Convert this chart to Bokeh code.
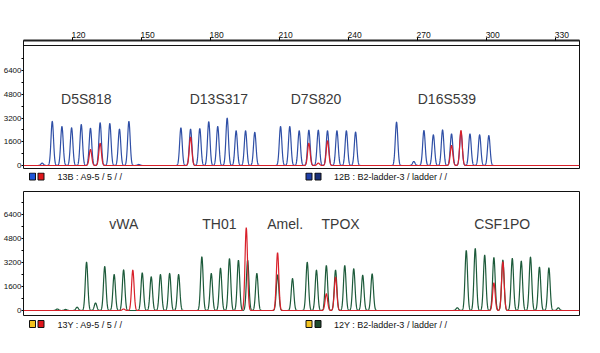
import numpy as np
from bokeh.plotting import figure
from bokeh.layouts import column
from bokeh.models import Range1d, FixedTicker, Span, LinearAxis
from bokeh.core.properties import value
from bokeh.embed import file_html
from bokeh.resources import INLINE

# ---------------- data ----------------
bp_ticks = [120, 150, 180, 210, 240, 270, 300, 330]
rfu_ticks = [0, 1600, 3200, 4800, 6400]
rfu_minor = [800, 2400, 4000, 5600, 7200]
rfu_labels = ["0", "1600", "3200", "4800", "6400"]

# top panel, blue dye (peaks: size in bp, height in RFU)
blue_bp = [106.8, 111.2, 115.4, 119.6, 123.8, 127.8, 132.0, 136.2, 140.4, 144.5, 148.8,
           167.1, 171.3, 175.3, 179.2, 183.1, 187.2, 191.1, 195.2, 199.2,
           210.4, 214.4, 218.5, 222.7, 226.8, 230.8, 234.9, 239.0, 243.0,
           260.8, 268.3,
           272.7, 276.8, 280.8, 284.7, 288.8, 292.7, 296.9, 300.9]
blue_h = [160, 2970, 2630, 2540, 2760, 2510, 2880, 2830, 2450, 2970, 70,
          2540, 2450, 2490, 2950, 2630, 3190, 2340, 2340, 2240,
          2630, 2630, 2340, 2380, 2380, 2340, 2340, 2340, 2250,
          2920, 270,
          2360, 2070, 2400, 2130, 2250, 2130, 2070, 2020]
# top panel, red trace
red_top_bp = [127.8, 132.0, 171.3, 222.7, 226.8, 230.8, 284.7, 288.8]
red_top_h = [1080, 1500, 1910, 1500, 160, 1660, 1350, 2360]

# bottom panel, green trace
green_bp = [113.4, 117.0, 122.0, 126.1, 130.0, 134.0, 138.1, 142.2, 150.3, 154.2, 158.2, 162.2, 166.1,
            176.2, 180.3, 184.3, 188.2, 192.1, 196.1, 200.1,
            209.1, 215.6,
            222.0, 226.0, 230.3, 234.3, 238.3, 242.2, 246.1, 250.2,
            287.2, 291.1, 295.0, 299.1, 303.1, 307.0, 311.1, 315.0, 319.0, 322.9, 327.0, 331.1]
green_h = [100, 70, 220, 3220, 500, 2930, 2400, 2710, 2510, 2250, 2400, 2470, 2400,
           3580, 2470, 2820, 3450, 3350, 3350, 2470,
           2380, 2130,
           3220, 2690, 3000, 2690, 3000, 2780, 2350, 2440,
           180, 4000, 4130, 3690, 3530, 3360, 3470, 3290, 3560, 2890, 2840, 180]
# bottom panel, red trace
red_bot_bp = [142.2, 146.2, 195.5, 209.1, 230.3, 234.3, 303.1, 307.0]
red_bot_h = [100, 2690, 5510, 3850, 1110, 2220, 1840, 3240]

top_loci = ["D5S818", "D13S317", "D7S820", "D16S539"]
top_loci_bp = [126.0, 183.6, 225.8, 282.7]
bot_loci = ["vWA", "TH01", "Amel.", "TPOX", "CSF1PO"]
bot_loci_bp = [142.3, 183.8, 212.4, 236.5, 306.7]
TOP_LABEL_RFU = 4500
BOT_LABEL_RFU = 5750

legend_top_text = ["13B : A9-5 / 5 /  /", "12B : B2-ladder-3 / ladder /  /"]
legend_top_colors = [["#1f56d8", "#e0161c"], ["#1f3fa8", "#1a2f78"]]
legend_bot_text = ["13Y : A9-5 / 5 /  /", "12Y : B2-ladder-3 / ladder /  /"]
legend_bot_colors = [["#f2c21e", "#e0161c"], ["#f2c21e", "#1d4a2c"]]

# ---------------- styling / layout ----------------
X0, X1 = 98.7, 340.3          # frame spans page x 23..579
LABEL_SHIFT = 2.6             # tick labels sit just right of their tick marks
SIGMA = 0.55
grid = np.arange(X0, X1, 0.04)

BLUE = "#2f4fa6"
RED = "#d8202a"
GREEN = "#1c5a3a"
TICK_FONT = "Liberation Sans"


def trace(pos, hts):
    y = np.zeros_like(grid)
    for c, h in zip(pos, hts):
        y += h * np.exp(-0.5 * ((grid - c) / SIGMA) ** 2)
    return y


def style_yaxis(p):
    ax = p.yaxis[0]
    ax.ticker = FixedTicker(ticks=rfu_ticks, minor_ticks=rfu_minor)
    ax.major_label_overrides = {t: l for t, l in zip(rfu_ticks, rfu_labels)}
    ax.axis_line_color = None
    ax.major_tick_out = 2
    ax.major_tick_in = 0
    ax.minor_tick_out = 2
    ax.minor_tick_in = 0
    ax.major_label_standoff = 0
    ax.major_label_text_font = TICK_FONT
    ax.major_label_text_font_size = "8px"
    ax.major_label_text_color = "#111111"


def panel(height, y0, y1, above, bottom_border=0):
    kw = dict(width=600, height=height, x_range=Range1d(X0, X1), y_range=Range1d(y0, y1),
              output_backend="svg", toolbar_location=None, min_border=0,
              min_border_left=23, min_border_right=21,
              min_border_top=40 if above else 0, min_border_bottom=bottom_border)
    if above:
        p = figure(x_axis_location="above", **kw)
        ax = p.xaxis[0]          # tick marks and axis line
        ax.ticker = FixedTicker(ticks=bp_ticks, minor_ticks=[])
        ax.axis_line_width = 2
        ax.axis_line_color = "#222222"
        ax.major_tick_out = 3
        ax.major_tick_in = 0
        ax.major_label_standoff = 0
        ax.major_label_text_font_size = "0px"
        ax.major_label_text_color = None
        # labels, offset so they start at their tick mark
        p.extra_x_ranges = {"lab": Range1d(X0 - LABEL_SHIFT, X1 - LABEL_SHIFT)}
        lab = LinearAxis(x_range_name="lab")
        lab.ticker = FixedTicker(ticks=bp_ticks, minor_ticks=[])
        lab.axis_line_color = None
        lab.major_tick_line_color = None
        lab.major_tick_out = 0
        lab.major_tick_in = 0
        lab.major_label_standoff = 0
        lab.major_label_text_font = TICK_FONT
        lab.major_label_text_font_size = "8.5px"
        lab.major_label_text_color = "#111111"
        p.add_layout(lab, "above")
    else:
        p = figure(x_axis_type=None, **kw)
    style_yaxis(p)
    p.grid.visible = False
    p.outline_line_color = "#111111"
    p.outline_line_width = 1
    p.background_fill_color = "white"
    return p


def legend_fig(height, ycen, texts, colors):
    # frames of a column are aligned, so this frame spans page x 23..579 too
    q = figure(width=600, height=height, x_range=Range1d(23, 579), y_range=Range1d(height, 0),
               output_backend="svg", toolbar_location=None, x_axis_type=None, y_axis_type=None,
               min_border=0, min_border_left=23, min_border_right=21)
    q.outline_line_color = None
    sq_x = [[32, 40.5], [308.5, 317.5]]
    txt_x = [57, 333.5]
    for i in range(2):
        q.rect(x=sq_x[i], y=[ycen, ycen], width=6, height=7, fill_color=colors[i],
               line_color="#111111", line_width=1)
    q.text(x=txt_x, y=[ycen + 0.5, ycen + 0.5], text=texts, text_font=value(TICK_FONT),
           text_font_size="9px", text_color="#111111", text_align="left", text_baseline="middle")
    return q


# top panel: 0 RFU at y=165 px, 67.4 RFU/px, frame 40..168 px
top = panel(172, -202, 8425, True, bottom_border=4)
top.add_layout(Span(location=8088, dimension="width", line_color="#111111", line_width=1))
top.line(grid, trace(blue_bp, blue_h), line_color=BLUE, line_width=1.2)
top.line(grid, trace(red_top_bp, red_top_h), line_color=RED, line_width=1.2)
top.text(x=top_loci_bp, y=[TOP_LABEL_RFU] * len(top_loci), text=top_loci,
         text_font=value("Liberation Sans"), text_font_size="14px", text_color="#3a3a3a",
         text_align="center", text_baseline="middle")

leg1 = legend_fig(19, 4, legend_top_text, legend_top_colors)

# bottom panel: 0 RFU at y=310 px, 66.67 RFU/px, frame 191..316 px
bot = panel(125, -400, 7933, False)
bot.line(grid, trace(green_bp, green_h), line_color=GREEN, line_width=1.2)
bot.line(grid, trace(red_bot_bp, red_bot_h), line_color=RED, line_width=1.2)
bot.text(x=bot_loci_bp, y=[BOT_LABEL_RFU] * len(bot_loci), text=bot_loci,
         text_font=value("Liberation Sans"), text_font_size="14px", text_color="#3a3a3a",
         text_align="center", text_baseline="middle")

leg2 = legend_fig(37, 7.5, legend_bot_text, legend_bot_colors)

layout = column(top, leg1, bot, leg2, spacing=0)
open("out.html", "w").write(file_html(layout, INLINE))
